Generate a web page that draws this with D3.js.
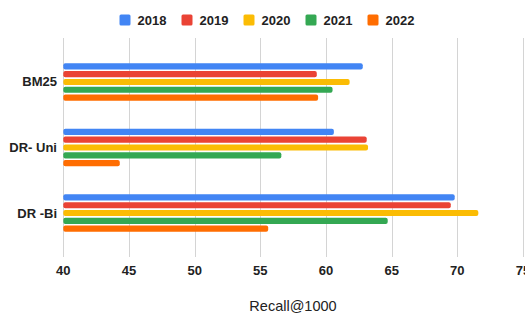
<!DOCTYPE html>
<html><head><meta charset="utf-8">
<script src="https://cdn.jsdelivr.net/npm/d3@7"></script>
<style>body{margin:0;background:#fff;overflow:hidden}svg{display:block}text{font-family:Arial,"Liberation Sans",sans-serif;fill:#222}</style>
</head><body>
<svg id="c" width="525" height="314"></svg>
<script>
const categories = ["BM25", "DR- Uni", "DR -Bi"];
const seriesNames = ["2018", "2019", "2020", "2021", "2022"];
const colors = ["#4285F4", "#EA4335", "#FBBC04", "#34A853", "#FF6D01"];
const values2018 = [62.8, 60.6, 69.8];
const values2019 = [59.3, 63.1, 69.5];
const values2020 = [61.8, 63.2, 71.6];
const values2021 = [60.5, 56.6, 64.7];
const values2022 = [59.4, 44.3, 55.6];
const xTicks = [40, 45, 50, 55, 60, 65, 70, 75];
const axisTitle = "Recall@1000";

const seriesValues = [values2018, values2019, values2020, values2021, values2022];
const svg = d3.select("#c");
const plotLeft = 63.3, plotRight = 523, plotTop = 38, plotBottom = 257;

const x = d3.scaleLinear().domain([40, 75]).range([plotLeft, plotRight]);
const y = d3.scaleBand().domain(categories).range([plotTop, plotBottom]).paddingInner(0.405).paddingOuter(0.374);
const ySub = d3.scaleBand().domain(seriesNames).range([0, y.bandwidth()]).paddingInner(0.22).paddingOuter(0.1);

// gridlines
svg.append("g").selectAll("line").data(xTicks).join("line")
  .attr("x1", d => Math.round(x(d)) + 0.5).attr("x2", d => Math.round(x(d)) + 0.5)
  .attr("y1", plotTop).attr("y2", plotBottom)
  .attr("stroke", "#d4d4d4").attr("stroke-width", 1);

// bars
const g = svg.append("g");
categories.forEach((cat, ci) => {
  seriesNames.forEach((s, si) => {
    g.append("rect")
      .attr("x", x(40))
      .attr("y", y(cat) + ySub(s))
      .attr("width", x(seriesValues[si][ci]) - x(40))
      .attr("height", ySub.bandwidth())
      .attr("rx", 2).attr("ry", 2)
      .attr("fill", colors[si]);
  });
});

// x tick labels
svg.append("g").selectAll("text").data(xTicks).join("text")
  .attr("x", d => x(d)).attr("y", 274.5)
  .attr("text-anchor", "middle")
  .attr("font-size", 13).attr("font-weight", "bold")
  .text(d => d);

// category labels
svg.append("g").selectAll("text").data(categories).join("text")
  .attr("x", 57).attr("y", d => y(d) + y.bandwidth() / 2 + 4.5)
  .attr("text-anchor", "end")
  .attr("font-size", 13).attr("font-weight", "bold")
  .text(d => d);

// axis title
svg.append("text").attr("x", 293).attr("y", 311)
  .attr("text-anchor", "middle").attr("font-size", 14.5)
  .text(axisTitle);

// legend
const lg = svg.append("g");
seriesNames.forEach((s, i) => {
  const lx = 119.5 + i * 62;
  lg.append("rect").attr("x", lx).attr("y", 14.5).attr("width", 11).attr("height", 11)
    .attr("rx", 1.5).attr("fill", colors[i]);
  lg.append("text").attr("x", lx + 18).attr("y", 25)
    .attr("font-size", 13).attr("font-weight", "bold").text(s);
});
</script>
</body></html>
